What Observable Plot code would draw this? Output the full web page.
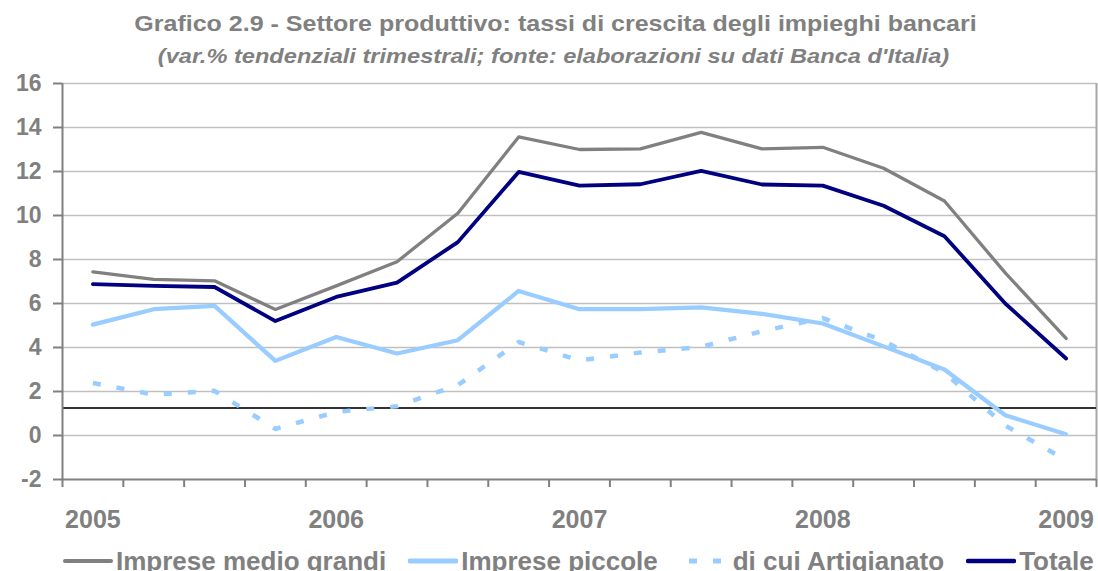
<!DOCTYPE html>
<html>
<head>
<meta charset="utf-8">
<script src="https://cdn.jsdelivr.net/npm/d3@7"></script>
<script src="https://cdn.jsdelivr.net/npm/@observablehq/plot@0.6"></script>
<style>
  html, body { margin: 0; padding: 0; background: #fff; overflow: hidden; }
  body { font-family: "Liberation Sans", Arial, sans-serif; }
  #wrap { position: relative; width: 1098px; height: 571px; overflow: hidden; }
  .t { position: absolute; text-align: center; color: #808080; font-weight: bold; white-space: nowrap; transform-origin: 50% 50%; }
  #title { top: 13px; left: 0; width: 1111px; font-size: 22px; line-height: 22px; transform: scaleX(1.137); }
  #subtitle { top: 45px; left: 0; width: 1107px; font-size: 21px; line-height: 21px; font-style: italic; transform: scaleX(1.124); }
  #chart { position: absolute; left: 0; top: 70px; }
  #legend { position: absolute; left: 63px; top: 548px; display: flex; gap: 22px; font-size: 26px; line-height: 26px; font-weight: bold; color: #808080; white-space: nowrap; }
  .item { display: flex; align-items: flex-start; }
  .item svg { margin-right: 3px; }
</style>
</head>
<body>
<div id="wrap">
  <div id="title" class="t">Grafico 2.9 - Settore produttivo: tassi di crescita degli impieghi bancari</div>
  <div id="subtitle" class="t">(var.% tendenziali trimestrali; fonte: elaborazioni su dati Banca d'Italia)</div>
  <div id="chart"></div>
  <div id="legend"></div>
</div>
<script>
// Quarterly categories (2005 Q1 - 2009 Q1)
const trimestri = ["I 2005","II 2005","III 2005","IV 2005","I 2006","II 2006","III 2006","IV 2006",
                   "I 2007","II 2007","III 2007","IV 2007","I 2008","II 2008","III 2008","IV 2008","I 2009"];
const impreseMedioGrandi = [7.44, 7.10, 7.03, 5.73, 6.80, 7.90, 10.10, 13.57, 13.00, 13.03, 13.78, 13.03, 13.10, 12.15, 10.66, 7.39, 4.41];
const impresePiccole     = [5.04, 5.74, 5.89, 3.39, 4.48, 3.73, 4.33, 6.57, 5.74, 5.74, 5.82, 5.53, 5.09, 4.05, 3.00, 0.92, 0.06];
const diCuiArtigianato   = [2.39, 1.86, 2.03, 0.30, 1.07, 1.33, 2.29, 4.25, 3.42, 3.77, 4.03, 4.74, 5.34, 4.30, 2.85, 0.45, -1.12];
const totale             = [6.88, 6.80, 6.75, 5.20, 6.30, 6.95, 8.79, 11.98, 11.36, 11.42, 12.03, 11.41, 11.36, 10.44, 9.06, 6.00, 3.50];
const seriesNames = ["Imprese medio grandi", "Imprese piccole", "di cui Artigianato", "Totale"];
const yTicks = [-2, 0, 2, 4, 6, 8, 10, 12, 14, 16];
const yearLabels = ["2005", "2006", "2007", "2008", "2009"];
const referenceLine = 1.25;

const colors = { "Imprese medio grandi": "#808080", "Imprese piccole": "#99CCFF", "di cui Artigianato": "#99CCFF", "Totale": "#000080" };
const widths = { "Imprese medio grandi": 3.3, "Imprese piccole": 4.2, "di cui Artigianato": 4.5, "Totale": 3.8 };
const dashes = { "di cui Artigianato": "8,16" };

const valuesByName = {
  "Imprese medio grandi": impreseMedioGrandi,
  "Imprese piccole": impresePiccole,
  "di cui Artigianato": diCuiArtigianato,
  "Totale": totale
};
const rows = name => trimestri.map((q, i) => ({ q, i, v: valuesByName[name][i] }));
const yearRows = yearLabels.map(y => ({ label: y, i: trimestri.indexOf("I " + y) }));

const lineMark = name => Plot.line(rows(name), {
  x: d => d.i + 0.5, y: "v",
  stroke: colors[name], strokeWidth: widths[name],
  strokeDasharray: dashes[name], strokeLinejoin: "round",
  strokeLinecap: dashes[name] ? "butt" : "round"
});

const plot = Plot.plot({
  width: 1098, height: 470,
  marginTop: 13, marginBottom: 61, marginLeft: 62, marginRight: 2,
  x: { type: "linear", domain: [0, trimestri.length], axis: null },
  y: { domain: [yTicks[0], yTicks[yTicks.length - 1]], axis: null },
  style: { fontFamily: "Liberation Sans, Arial, sans-serif", background: "white", overflow: "visible" },
  marks: [
    Plot.ruleY(yTicks.filter(v => v > yTicks[0]), { stroke: "#c0c0c0", strokeWidth: 1.3 }),
    Plot.ruleX([trimestri.length], { stroke: "#a6a6a6", strokeWidth: 2 }),
    Plot.ruleY([referenceLine], { stroke: "#333333", strokeWidth: 2 }),
    Plot.axisY(yTicks, { anchor: "left", label: null, tickSize: 9, tickPadding: 12, stroke: "#808080", strokeWidth: 2,
      fill: "#808080", fontSize: 23, fontWeight: "bold", tickFormat: d => String(d) }),
    Plot.axisX(d3.range(0, trimestri.length + 1), { anchor: "bottom", label: null, tickSize: 8, stroke: "#808080", strokeWidth: 2, tickFormat: () => "" }),
    Plot.ruleX([0], { stroke: "#808080", strokeWidth: 2 }),
    Plot.ruleY([yTicks[0]], { stroke: "#808080", strokeWidth: 2 }),
    Plot.text(yearRows, { x: d => d.i + 0.5, y: () => yTicks[0], dy: 40, text: "label",
      fontSize: 25, fontWeight: "bold", fill: "#808080" }),
    lineMark("Imprese medio grandi"),
    lineMark("Imprese piccole"),
    lineMark("di cui Artigianato"),
    lineMark("Totale")
  ]
});
document.getElementById("chart").appendChild(plot);

// Legend
const legend = d3.select("#legend");
seriesNames.forEach(name => {
  const item = legend.append("div").attr("class", "item");
  const svg = item.append("svg").attr("width", 50).attr("height", 26);
  const ln = svg.append("line").attr("x1", dashes[name] ? 9 : 2).attr("x2", dashes[name] ? 50 : 48)
    .attr("y1", 13).attr("y2", 13)
    .attr("stroke", colors[name]).attr("stroke-width", widths[name] + 0.7)
    .attr("stroke-linecap", dashes[name] ? "butt" : "round");
  if (dashes[name]) ln.attr("stroke-dasharray", dashes[name]);
  item.append("span").text(name);
});
</script>
</body>
</html>
